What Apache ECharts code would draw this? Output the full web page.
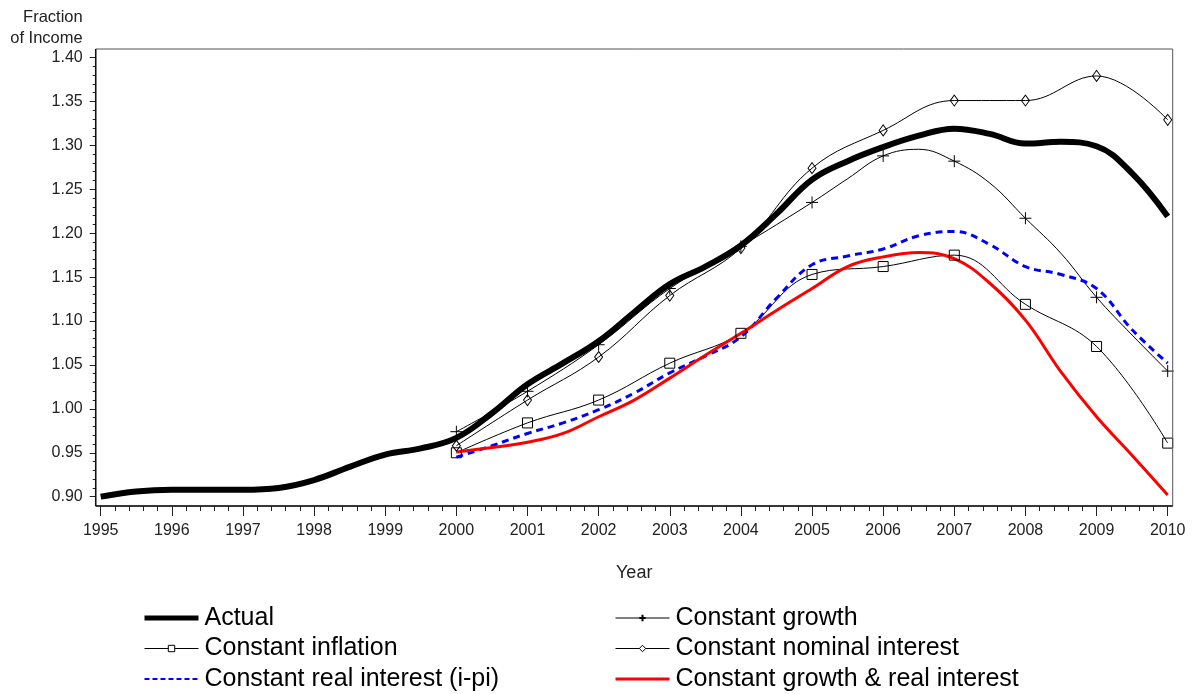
<!DOCTYPE html>
<html>
<head>
<meta charset="utf-8">
<script src="https://cdn.jsdelivr.net/npm/echarts@6/dist/echarts.min.js"></script>
<style>
html,body{margin:0;padding:0;background:#fff;}
#chart{width:1199px;height:694px;}
</style>
</head>
<body>
<div id="chart"></div>
<script>
// ---- Data ----
const actualYears = [1995, 1995.5, 1996, 1996.5, 1997, 1997.5, 1998, 1998.5, 1999, 1999.5, 2000, 2000.5, 2001, 2001.5, 2002, 2002.5, 2003, 2003.5, 2004, 2004.5, 2005, 2005.5, 2006, 2006.5, 2007, 2007.5, 2008, 2008.5, 2009, 2009.5, 2010];
const actualValues = [0.900, 0.906, 0.908, 0.908, 0.908, 0.910, 0.919, 0.934, 0.948, 0.955, 0.967, 0.995, 1.028, 1.052, 1.077, 1.110, 1.142, 1.162, 1.186, 1.222, 1.261, 1.282, 1.298, 1.311, 1.319, 1.313, 1.302, 1.304, 1.299, 1.268, 1.219];

const scenarioYears = [2000, 2001, 2002, 2003, 2004, 2005, 2006, 2007, 2008, 2009, 2010];
const constInflation   = [0.950, 0.984, 1.010, 1.052, 1.086, 1.153, 1.162, 1.175, 1.119, 1.071, 0.961];
const constNominal     = [0.958, 1.010, 1.059, 1.129, 1.183, 1.274, 1.317, 1.351, 1.351, 1.379, 1.329];

const growthYears  = [2000, 2001, 2002, 2003, 2004, 2005, 2005.5, 2006, 2006.5, 2007, 2007.5, 2008, 2008.5, 2009, 2009.5, 2010];
const constGrowth  = [0.974, 1.020, 1.073, 1.137, 1.185, 1.235, 1.262, 1.288, 1.2955, 1.282, 1.257, 1.217, 1.177, 1.127, 1.084, 1.043];

const halfYears = [2000, 2000.5, 2001, 2001.5, 2002, 2002.5, 2003, 2003.5, 2004, 2004.5, 2005, 2005.5, 2006, 2006.5, 2007, 2007.5, 2008, 2008.5, 2009, 2009.5, 2010];
const constRealInt    = [0.945, 0.958, 0.972, 0.984, 0.999, 1.018, 1.041, 1.060, 1.082, 1.126, 1.164, 1.174, 1.182, 1.197, 1.202, 1.187, 1.162, 1.153, 1.137, 1.090, 1.052];
const constGrowthReal = [0.951, 0.956, 0.962, 0.972, 0.991, 1.010, 1.035, 1.061, 1.086, 1.112, 1.137, 1.162, 1.173, 1.178, 1.171, 1.143, 1.101, 1.042, 0.991, 0.947, 0.902];

const seriesNames = ['Actual', 'Constant growth', 'Constant inflation', 'Constant nominal interest', 'Constant real interest (i-pi)', 'Constant growth & real interest'];

function pairs(xs, ys) { return xs.map((x, i) => [x, ys[i]]); }
function markedPairs(xs, ys) {
  return xs.map((x, i) => Number.isInteger(x) ? {value: [x, ys[i]]} : {value: [x, ys[i]], symbol: 'none'});
}

// ---- Layout (pixels) ----
const plotLeft = 100.7, plotRight = 1167.7, plotTop = 57.5, plotBottom = 496.7;
const frameLeft = 95.7, frameRight = 1172.7, frameTop = 49, frameBottom = 506;

const chart = echarts.init(document.getElementById('chart'), null, {renderer: 'canvas'});
const font = 'Liberation Sans, Arial, sans-serif';
const hideSym = {color: 'rgba(0,0,0,0)', borderColor: 'rgba(0,0,0,0)', borderWidth: 0, opacity: 0};
const hollowSym = {color: '#fff', borderColor: '#000', borderWidth: 1};
const legendText = {fontSize: 25, color: '#000', fontFamily: font, lineHeight: 25, padding: [0, 0, 0, 1]};
const legendCommon = {orient: 'vertical', top: 605.5, padding: 0, itemWidth: 54, itemHeight: 8, itemGap: 5.5, textStyle: legendText};

const option = {
  animation: false,
  backgroundColor: '#fff',
  textStyle: {fontFamily: font},
  grid: {left: plotLeft, right: 1199 - plotRight, top: plotTop, bottom: 694 - plotBottom, containLabel: false},
  xAxis: {
    type: 'value', min: 1995, max: 2010, interval: 1,
    offset: frameBottom - plotBottom,
    name: 'Year', nameLocation: 'middle', nameGap: 58,
    nameTextStyle: {fontSize: 18, color: '#222', fontFamily: font},
    axisLine: {show: false},
    axisTick: {show: true, length: 10, inside: false, lineStyle: {color: '#222', width: 1}},
    minorTick: {show: true, splitNumber: 5, length: 5, lineStyle: {color: '#222', width: 1}},
    axisLabel: {fontSize: 16, color: '#222', margin: 17, fontFamily: font, formatter: v => String(v)},
    splitLine: {show: false}
  },
  yAxis: {
    type: 'value', min: 0.9, max: 1.4, interval: 0.05,
    offset: plotLeft - frameLeft,
    name: 'Fraction\nof Income', nameLocation: 'end', nameGap: 9,
    nameTextStyle: {fontSize: 16.5, color: '#222', align: 'right', lineHeight: 21, padding: [0, 13, 0, 0], fontFamily: font},
    axisLine: {show: false},
    axisTick: {show: true, length: 6, lineStyle: {color: '#222', width: 1}},
    minorTick: {show: true, splitNumber: 5, length: 3, lineStyle: {color: '#222', width: 1}},
    axisLabel: {fontSize: 16, color: '#222', margin: 13, fontFamily: font, formatter: v => v.toFixed(2)},
    splitLine: {show: false}
  },
  legend: [
    Object.assign({}, legendCommon, {
      left: 142,
      data: [
        {name: 'Actual', itemStyle: hideSym, lineStyle: {width: 5, color: '#000'}},
        {name: 'Constant inflation', itemStyle: hollowSym, lineStyle: {width: 1, color: '#000'}},
        {name: 'Constant real interest (i-pi)', itemStyle: hideSym, lineStyle: {width: 2, color: '#0000ff', type: [5, 3]}}
      ]
    }),
    Object.assign({}, legendCommon, {
      left: 614,
      data: [
        {name: 'Constant growth', lineStyle: {width: 1, color: '#000'}},
        {name: 'Constant nominal interest', itemStyle: hollowSym, lineStyle: {width: 1, color: '#000'}},
        {name: 'Constant growth & real interest', itemStyle: hideSym, lineStyle: {width: 3, color: '#ff0000'}}
      ]
    })
  ],
  graphic: [
    {type: 'rect', z: 10, silent: true, shape: {x: frameLeft, y: frameTop, width: frameRight - frameLeft, height: frameBottom - frameTop}, style: {fill: 'none', stroke: '#555', lineWidth: 1}},
    {type: 'line', z: 11, silent: true, shape: {x1: frameLeft, y1: frameTop, x2: frameLeft, y2: frameBottom}, style: {stroke: '#111', lineWidth: 1.5}},
    {type: 'line', z: 11, silent: true, shape: {x1: frameLeft, y1: frameBottom, x2: frameRight, y2: frameBottom}, style: {stroke: '#111', lineWidth: 1.5}}
  ],
  series: [
    {
      name: seriesNames[0], type: 'line', data: pairs(actualYears, actualValues), smooth: 0.4,
      showSymbol: false, symbol: 'none', z: 5,
      lineStyle: {color: '#000', width: 6}, itemStyle: {color: '#000'}
    },
    {
      name: seriesNames[1], type: 'line', data: markedPairs(growthYears, constGrowth), smooth: 0.4,
      symbol: 'path://M0,-1L0,1M-1,0L1,0', symbolSize: 12, showSymbol: true,
      lineStyle: {color: '#000', width: 1}, itemStyle: {color: 'none', borderColor: '#000', borderWidth: 1}
    },
    {
      name: seriesNames[2], type: 'line', data: pairs(scenarioYears, constInflation), smooth: 0.4,
      symbol: 'rect', symbolSize: 10, showSymbol: true,
      lineStyle: {color: '#000', width: 1}, itemStyle: {color: 'rgba(0,0,0,0)', borderColor: '#000', borderWidth: 1}
    },
    {
      name: seriesNames[3], type: 'line', data: pairs(scenarioYears, constNominal), smooth: 0.4,
      symbol: 'diamond', symbolSize: [8, 11], showSymbol: true,
      lineStyle: {color: '#000', width: 1}, itemStyle: {color: 'rgba(0,0,0,0)', borderColor: '#000', borderWidth: 1}
    },
    {
      name: seriesNames[4], type: 'line', data: pairs(halfYears, constRealInt), smooth: 0.4,
      showSymbol: false, symbol: 'none',
      lineStyle: {color: '#0000ff', width: 3, type: [7, 5]}, itemStyle: {color: '#0000ff'}
    },
    {
      name: seriesNames[5], type: 'line', data: pairs(halfYears, constGrowthReal), smooth: 0.4,
      showSymbol: false, symbol: 'none',
      lineStyle: {color: '#ff0000', width: 3}, itemStyle: {color: '#ff0000'}
    }
  ]
};
chart.setOption(option);
</script>
</body>
</html>
